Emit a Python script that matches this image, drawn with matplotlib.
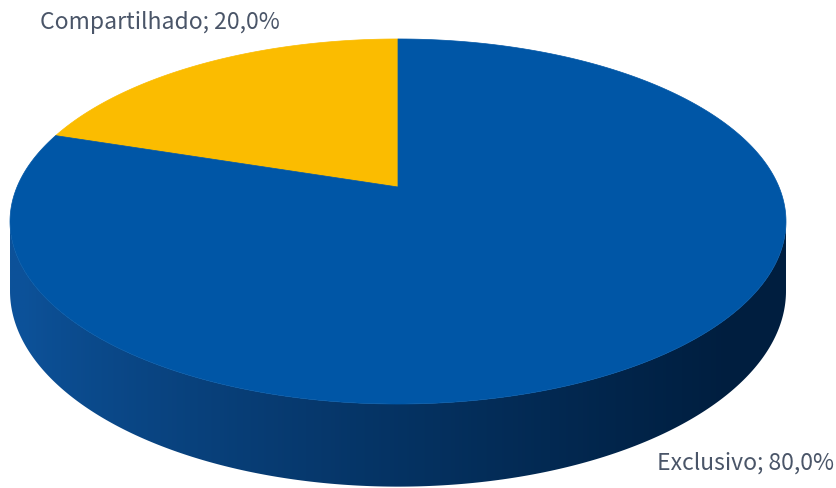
import numpy as np
import matplotlib
matplotlib.use('Agg')
import matplotlib.pyplot as plt
from matplotlib.patches import Polygon

# data
labels = ['Compartilhado', 'Exclusivo']
shares = [20.0, 80.0]
colors = ['#FBBC00', '#0056A6']

W, H = 837, 489
fig = plt.figure(figsize=(W / 100, H / 100), dpi=100)
ax = fig.add_axes([0, 0, 1, 1])

# perspective disc: unit circle (u, v) -> pixels
cx, cy = 398, 188
A, B, k = 381, 176, 0.189
D = 67  # thickness


def proj(t, drop=0.0):
    u, v = np.cos(t), np.sin(t)
    w = 1 + k * v
    return cx + A * u / w, cy - B * v / w + drop / w


def fmt(lab, val):
    return ('%s; %.1f%%' % (lab, val)).replace('.', ',')


# side (front half, between silhouette points)
t0 = np.pi + np.arcsin(k)
t1 = 2 * np.pi - np.arcsin(k)
ts = np.linspace(t0, t1, 300)
xt, yt = proj(ts)
xb, yb = proj(ts[::-1], D)
side = Polygon(np.column_stack([np.r_[xt, xb], np.r_[yt, yb]]), closed=True,
               facecolor='none', edgecolor='none')
ax.add_patch(side)
c_left = np.array([0.05, 0.32, 0.60])
c_right = np.array([0.0, 0.12, 0.25])
s = np.linspace(0, 1, 400)
s = np.clip((s - 0.02) / 0.9, 0, 1) ** 0.8
grad = (c_left[None, :] * (1 - s[:, None]) + c_right[None, :] * s[:, None])[None, :, :]
im = ax.imshow(grad, extent=[xt.min(), xt.max(), yb.max() + 2, yt.min() - 2],
               aspect='auto', interpolation='bilinear', zorder=1)
im.set_clip_path(side)

# top face wedges, starting at 12 o'clock, counter-clockwise
start = np.pi / 2
for lab, val, col in zip(labels, shares, colors):
    span = 2 * np.pi * val / 100.0
    tt = np.linspace(start, start + span, 400)
    x, y = proj(tt)
    xs = np.r_[cx, x]
    ys = np.r_[cy, y]
    ax.add_patch(Polygon(np.column_stack([xs, ys]), closed=True, facecolor=col,
                         edgecolor=col, linewidth=0.5, zorder=2))
    start += span

ax.set_xlim(0, W)
ax.set_ylim(H, 0)
ax.axis('off')

# labels
lab_font = dict(fontsize=16.5, color='#4A5568', family=['Noto Sans CJK JP', 'DejaVu Sans'])
ax.text(40, 22, fmt(labels[0], shares[0]), ha='left', va='center', **lab_font)
ax.text(834, 463, fmt(labels[1], shares[1]), ha='right', va='center', **lab_font)

fig.savefig('out.png', dpi=100)
